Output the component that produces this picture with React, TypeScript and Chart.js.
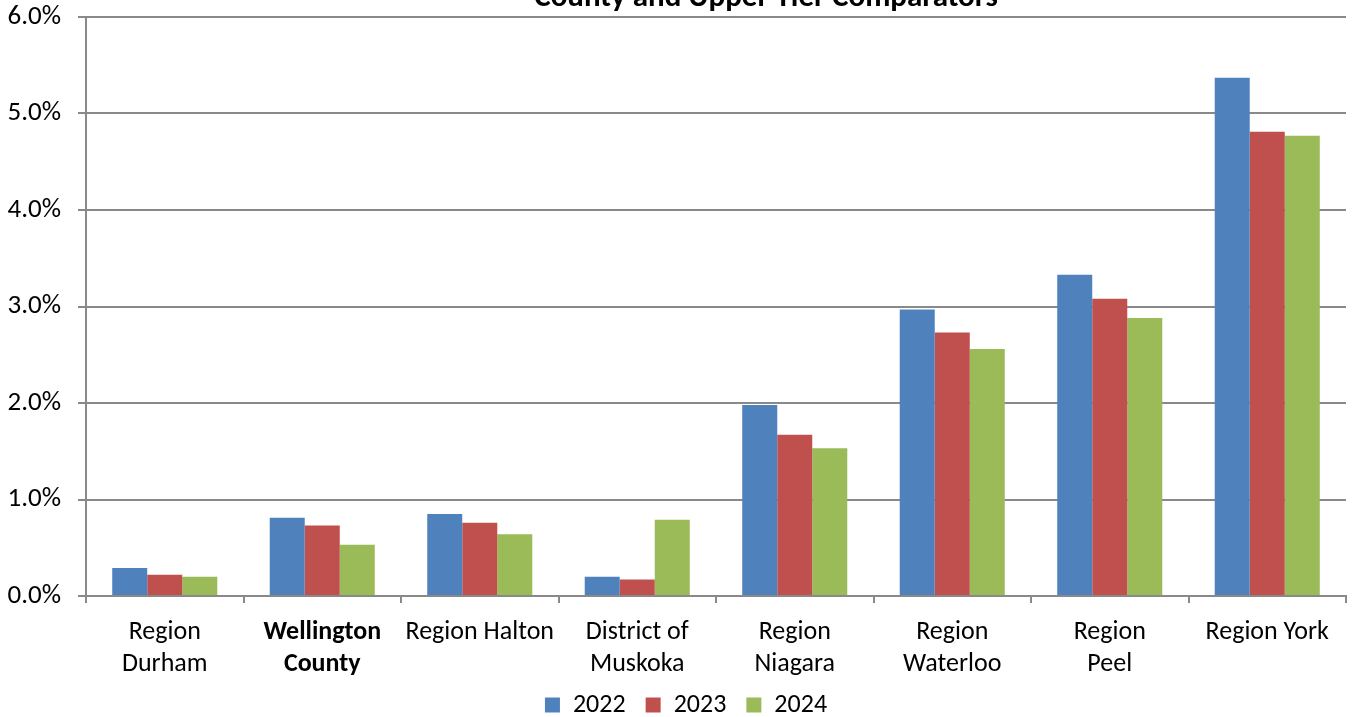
import React, { useEffect, useRef } from "react";
import { Chart, registerables } from "chart.js";

Chart.register(...registerables);

const categories: (string | string[])[] = [
  ["Region", "Durham"],
  ["Wellington", "County"],
  "Region Halton",
  ["District of", "Muskoka"],
  ["Region", "Niagara"],
  ["Region", "Waterloo"],
  ["Region", "Peel"],
  "Region York",
];

const values2022 = [0.29, 0.81, 0.85, 0.2, 1.98, 2.97, 3.33, 5.37];
const values2023 = [0.22, 0.73, 0.76, 0.17, 1.67, 2.73, 3.08, 4.81];
const values2024 = [0.2, 0.53, 0.64, 0.79, 1.53, 2.56, 2.88, 4.77];

const seriesLabels = ["2022", "2023", "2024"];
const yTicks = [0, 1, 2, 3, 4, 5, 6];
const titleText = "County and Upper Tier Comparators";

const FONT = "Carlito, Calibri, Lato, 'Open Sans', sans-serif";
const GRID = "#898989";

// Title sits at the very top edge of the canvas, partly cut off.
const clippedTitle = {
  id: "clippedTitle",
  afterDraw(chart: any) {
    const { ctx } = chart;
    ctx.save();
    ctx.font = `bold 31px ${FONT}`;
    ctx.fillStyle = "#000";
    ctx.textAlign = "center";
    ctx.textBaseline = "alphabetic";
    ctx.fillText(titleText, 766, 6);
    ctx.restore();
  },
};

// Nudge the legend up into the space below the two-line category labels.
const legendNudge = {
  id: "legendNudge",
  afterLayout(chart: any) {
    const lg = chart.legend;
    if (!lg) return;
    lg.top -= 8;
    lg.bottom -= 8;
    lg.left += 13;
    lg.right += 13;
  },
};

export default function App() {
  const ref = useRef<HTMLCanvasElement | null>(null);

  useEffect(() => {
    if (!ref.current) return;
    const chart = new Chart(ref.current, {
      type: "bar",
      data: {
        labels: categories,
        datasets: [
          { label: seriesLabels[0], data: values2022, backgroundColor: "#4F81BD" },
          { label: seriesLabels[1], data: values2023, backgroundColor: "#C0504D" },
          { label: seriesLabels[2], data: values2024, backgroundColor: "#9BBB59" },
        ],
      },
      options: {
        animation: false,
        responsive: true,
        maintainAspectRatio: false,
        datasets: { bar: { barPercentage: 1, categoryPercentage: 0.667 } },
        layout: { padding: { top: 17, right: 9, left: 0, bottom: -19 } },
        plugins: {
          title: { display: false },
          tooltip: { enabled: false },
          legend: {
            position: "bottom",
            labels: {
              boxWidth: 15,
              boxHeight: 15,
              padding: 20,
              color: "#000",
              font: { family: FONT, size: 26, lineHeight: 1 },
            },
          },
        },
        scales: {
          x: {
            afterFit: (s: any) => {
              s.height = 84;
              s.paddingLeft = 0;
              s.paddingRight = 0;
            },
            grid: {
              display: true,
              drawOnChartArea: false,
              drawTicks: true,
              tickLength: 7,
              color: GRID,
              lineWidth: 2,
              offset: true,
            },
            border: { display: true, color: GRID, width: 2 },
            ticks: {
              color: "#000",
              padding: 14,
              maxRotation: 0,
              autoSkip: false,
              font: (c: any) => ({
                family: FONT,
                size: 26,
                lineHeight: 1.23,
                weight: c.index === 1 ? "bold" : "normal",
              }),
            },
          },
          y: {
            min: 0,
            max: 6,
            afterFit: (s: any) => {
              s.width = 86;
              s.paddingTop = 0;
              s.paddingBottom = 0;
            },
            afterBuildTicks: (s: any) => {
              s.ticks = yTicks.map((v) => ({ value: v }));
            },
            grid: {
              color: GRID,
              lineWidth: 2,
              tickLength: 8,
            },
            border: { display: true, color: GRID, width: 2 },
            ticks: {
              color: "#000",
              padding: 17,
              font: { family: FONT, size: 27 },
              callback: (v: any) => Number(v).toFixed(1) + "%",
            },
          },
        },
      },
      plugins: [clippedTitle, legendNudge],
    });
    return () => chart.destroy();
  }, []);

  return (
    <div style={{ position: "absolute", left: 0, top: 0, width: 1355, height: 717, background: "#fff" }}>
      <canvas ref={ref} />
    </div>
  );
}
